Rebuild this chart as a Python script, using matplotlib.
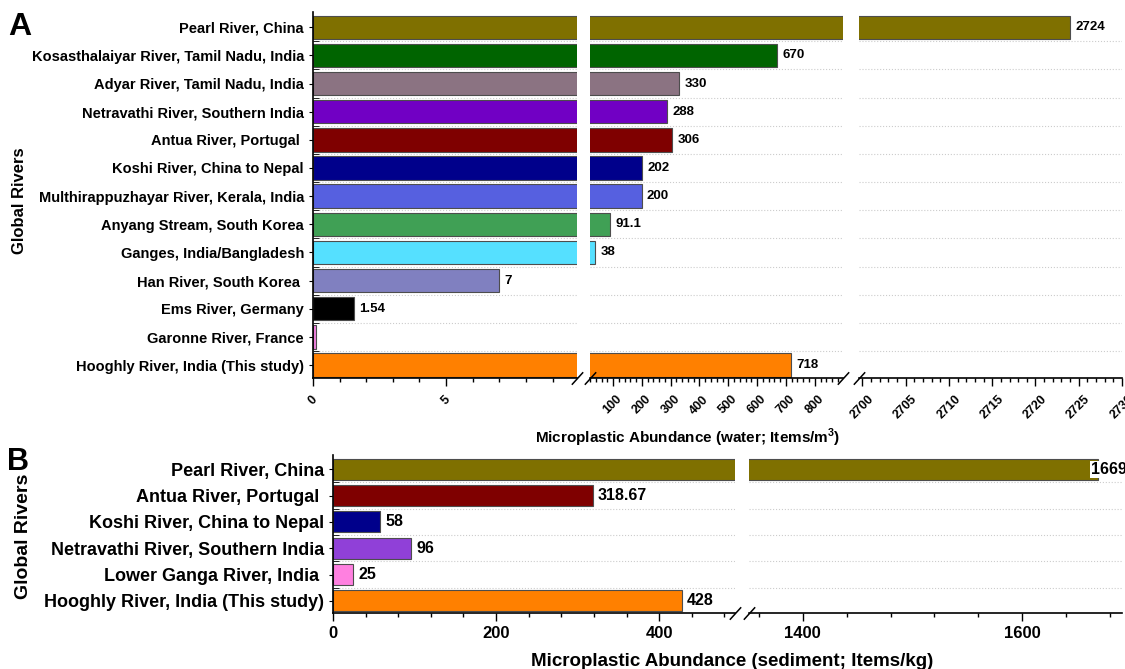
import numpy as np
import matplotlib.pyplot as plt
from matplotlib.ticker import MultipleLocator

plt.rcParams['font.family'] = ['Liberation Sans', 'DejaVu Sans']
plt.rcParams['font.weight'] = 'bold'
plt.rcParams['mathtext.fontset'] = 'custom'
plt.rcParams['mathtext.rm'] = 'Liberation Sans:bold'
plt.rcParams['mathtext.bf'] = 'Liberation Sans:bold'

# panel A: water
water_rivers = ['Pearl River, China', 'Kosasthalaiyar River, Tamil Nadu, India',
                'Adyar River, Tamil Nadu, India', 'Netravathi River, Southern India',
                'Antua River, Portugal ', 'Koshi River, China to Nepal',
                'Multhirappuzhayar River, Kerala, India', 'Anyang Stream, South Korea',
                'Ganges, India/Bangladesh', 'Han River, South Korea ',
                'Ems River, Germany', 'Garonne River, France',
                'Hooghly River, India (This study)']
water_values = [2724, 670, 330, 288, 306, 202, 200, 91.1, 38, 7, 1.54, 0.12, 718]
water_labels = ['2724', '670', '330', '288', '306', '202', '200', '91.1', '38', '7',
                '1.54', '', '718']
water_colors = ['#7f7000', '#006400', '#8b7382', '#7100c4', '#7f0000', '#00008b',
                '#5660e0', '#40a055', '#55e0ff', '#8080c0', '#000000', '#f080e0',
                '#ff8000']

# panel B: sediment
sed_rivers = ['Pearl River, China', 'Antua River, Portugal ', 'Koshi River, China to Nepal',
              'Netravathi River, Southern India', 'Lower Ganga River, India ',
              'Hooghly River, India (This study)']
sed_values = [1669, 318.67, 58, 96, 25, 428]
sed_labels = ['1669', '318.67', '58', '96', '25', '428']
sed_colors = ['#7f7000', '#7f0000', '#00008b', '#9040d8', '#ff80e0', '#ff8000']

W, H = 1125, 669
fig = plt.figure(figsize=(W / 100, H / 100), dpi=100)


def box(x0, x1, y0, y1):
    return [x0 / W, 1 - y1 / H, (x1 - x0) / W, (y1 - y0) / H]


def broken_panel(names, values, labels, colors, limits, spans, ytop, ybot,
                 ticks, bar_h, ysize, xsize, vsize, rot, xpad):
    n = len(names)
    y = np.arange(n)
    axes = []
    for k, (lims, (x0, x1), (maj, mnr)) in enumerate(zip(limits, spans, ticks)):
        ax = fig.add_axes(box(x0, x1, ytop, ybot))
        ax.barh(y, values, height=bar_h, color=colors, edgecolor='#4d4d4d',
                linewidth=0.8, zorder=2)
        ax.set_xlim(*lims)
        ax.set_ylim(n - 1 + 0.46, -0.54)
        ax.set_yticks(y)
        ax.set_yticks(np.arange(0.5, n - 1), minor=True)
        ax.grid(which='minor', axis='y', color='#cccccc', linestyle=':', linewidth=0.8)
        ax.set_axisbelow(True)
        ax.xaxis.set_major_locator(MultipleLocator(maj))
        ax.xaxis.set_minor_locator(MultipleLocator(mnr))
        ax.tick_params(axis='x', which='major', direction='out', length=6, width=1,
                       labelsize=xsize, labelrotation=rot, pad=xpad)
        ax.tick_params(axis='x', which='minor', direction='out', length=3, width=1)
        for s in ['top', 'right']:
            ax.spines[s].set_visible(False)
        ax.spines['bottom'].set_linewidth(1.2)
        if k == 0:
            ax.set_yticklabels(names, fontsize=ysize)
            ax.tick_params(axis='y', which='major', direction='out', length=3)
            ax.tick_params(axis='y', which='minor', direction='in', length=4)
            ax.spines['left'].set_linewidth(1.2)
        else:
            ax.spines['left'].set_visible(False)
            ax.tick_params(axis='y', which='both', left=False, labelleft=False)
        for i, (v, lab) in enumerate(zip(values, labels)):
            if not lab or not (lims[0] <= v <= lims[1]):
                continue
            # a label that would run off the figure sits over the bar end
            if k == len(limits) - 1 and lims[1] - v < 0.1 * (lims[1] - lims[0]):
                ax.annotate(lab, (v, i), xytext=(-7, 0), textcoords='offset pixels',
                            ha='left', va='center', fontsize=vsize, fontweight='bold',
                            bbox=dict(boxstyle='square,pad=0.05', fc='white', ec='none'))
            else:
                ax.annotate(lab, (v, i), xytext=(5, 0), textcoords='offset pixels',
                            ha='left', va='center', fontsize=vsize, fontweight='bold')
        axes.append(ax)
    # break marks on the bottom axis line
    mk = dict(marker=[(-1, -1.1), (1, 1.1)], markersize=9, linestyle='none',
              color='k', mec='k', mew=1.1, clip_on=False)
    for left_ax, right_ax in zip(axes[:-1], axes[1:]):
        left_ax.plot([1], [0], transform=left_ax.transAxes, **mk)
        right_ax.plot([0], [0], transform=right_ax.transAxes, **mk)
    return axes


axA = broken_panel(water_rivers, water_values, water_labels, water_colors,
                   [(0, 9.92), (20, 898), (2699.6, 2730)],
                   [(313, 577), (590, 843), (859, 1122)], 12, 378,
                   [(5, 1), (100, 20), (5, 1)], 0.83, 10.5, 9, 9.5, 45, 5)

axB = broken_panel(sed_rivers, sed_values, sed_labels, sed_colors,
                   [(0, 493), (1351, 1691)],
                   [(333, 735), (749, 1122)], 455, 613,
                   [(200, 40), (200, 40)], 0.8, 13, 12, 11.5, 0, 3)

fig.text(688 / W, 1 - 438 / H, r'Microplastic Abundance (water; Items/m$^{\mathbf{3}}$)',
         ha='center', va='center', fontsize=11, fontweight='bold')
fig.text(732 / W, 1 - 661 / H, 'Microplastic Abundance (sediment; Items/kg)',
         ha='center', va='center', fontsize=13.5, fontweight='bold')
fig.text(20 / W, 1 - 201 / H, 'Global Rivers', rotation=90, ha='center', va='center',
         fontsize=12, fontweight='bold')
fig.text(24 / W, 1 - 536 / H, 'Global Rivers', rotation=90, ha='center', va='center',
         fontsize=14, fontweight='bold')
fig.text(8 / W, 1 - 27 / H, 'A', ha='left', va='center', fontsize=23, fontweight='heavy')
fig.text(7 / W, 1 - 462 / H, 'B', ha='left', va='center', fontsize=22, fontweight='heavy')

fig.savefig('out.png', dpi=100)
